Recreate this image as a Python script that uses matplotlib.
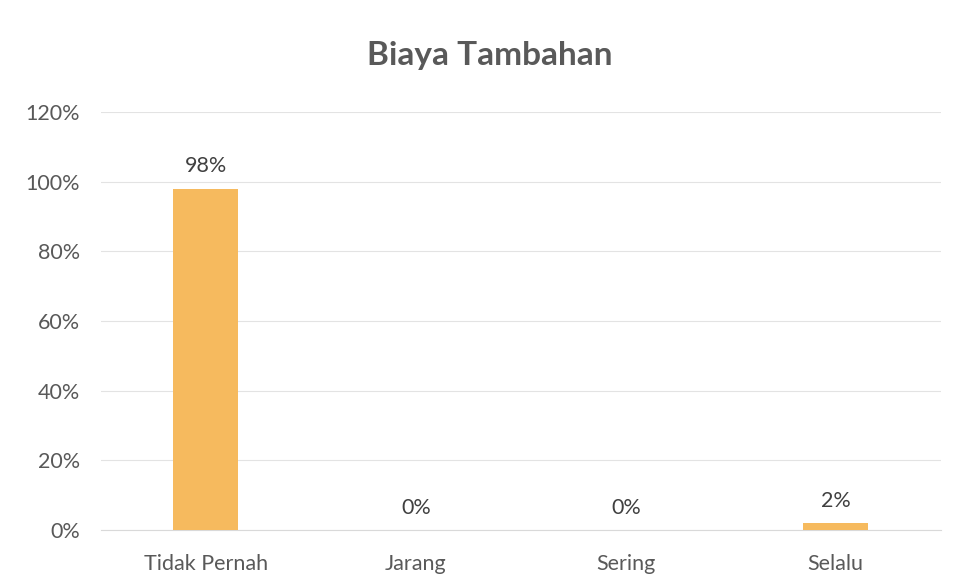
import matplotlib.pyplot as plt
from matplotlib.ticker import FuncFormatter

categories = ["Tidak Pernah", "Jarang", "Sering", "Selalu"]
values = [98, 0, 0, 2]
yticks = [0, 20, 40, 60, 80, 100, 120]

text_color = "#595959"
bar_color = "#F6BA5E"

plt.rcParams["font.family"] = ["Lato", "DejaVu Sans"]

fig = plt.figure(figsize=(9.57, 5.87), dpi=100)
ax = fig.add_axes([0.1055, 0.097, 0.8775, 0.712])

x = list(range(len(categories)))
bars = ax.bar(x, values, width=0.31, color=bar_color, zorder=3)

for xi, v in zip(x, values):
    ax.annotate(f"{v}%", (xi, v), xytext=(0, 9), textcoords="offset points",
                ha="center", va="bottom", fontsize=15.5, color="#404040")

ax.set_xlim(-0.5, len(categories) - 0.5)
ax.set_ylim(0, 120)
ax.set_yticks(yticks)
ax.yaxis.set_major_formatter(FuncFormatter(lambda v, p: f"{v:.0f}%"))
ax.set_xticks(x)
ax.set_xticklabels(categories)
ax.tick_params(axis="both", length=0, labelsize=15.5, labelcolor=text_color)
ax.tick_params(axis="y", pad=15)
ax.tick_params(axis="x", pad=17)

ax.grid(axis="y", color="#E3E3E3", linewidth=0.8, zorder=0)
for s in ["top", "right", "left"]:
    ax.spines[s].set_visible(False)
ax.spines["bottom"].set_color("#D9D9D9")

fig.text(0.512, 0.905, "Biaya Tambahan", ha="center", va="center",
         fontsize=24, fontweight="bold", color=text_color)

fig.savefig("out.png", dpi=100, facecolor="white")
